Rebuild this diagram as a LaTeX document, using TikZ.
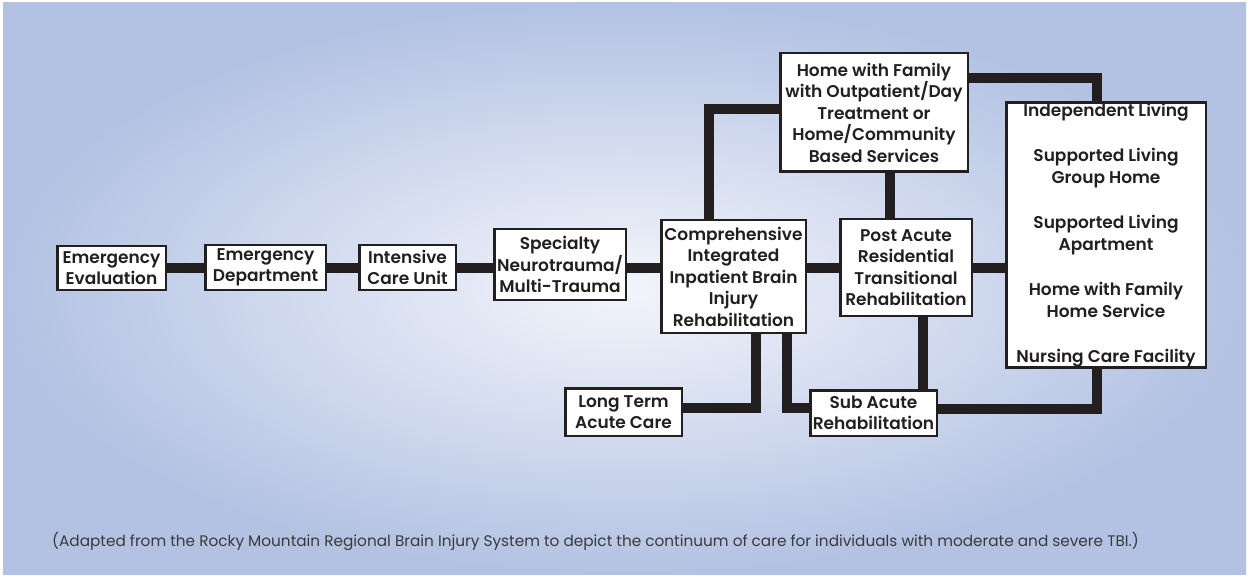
\documentclass[tikz,border=0pt]{standalone}
\usepackage{fontspec}
\setmainfont{Poppins}[BoldFont={Poppins SemiBold}]
\usetikzlibrary{backgrounds}
\definecolor{ink}{HTML}{231F20}
\definecolor{txt}{HTML}{231F20}
\definecolor{notec}{HTML}{3A3A3A}
\definecolor{bgout}{HTML}{B3C2E3}
\definecolor{bgin}{HTML}{F3F5FB}
\begin{document}
\begin{tikzpicture}[x=1pt,y=-1pt,
  box/.style={draw=ink, line width=2.5pt, fill=white, align=center, inner sep=0pt,
    font=\fontsize{17}{21.5}\selectfont\bfseries, text=txt},
  link/.style={draw=ink, line width=10pt, line join=miter, line cap=butt}]
\useasboundingbox (0,0) rectangle (1249,577);
\coordinate (row) at (0,268);
% boxes
\node[box, minimum width=108.5pt, minimum height=43.5pt] (ee) at (111.5,268) {Emergency\\Evaluation};
\node[box, minimum width=120.5pt, minimum height=44.5pt] (ed) at (265.5,267.5) {Emergency\\Department};
\node[box, minimum width=96.5pt, minimum height=44.5pt] (icu) at (407.5,267.5) {Intensive\\Care Unit};
\node[box, minimum width=131.5pt, minimum height=70.5pt] (spec) at (560,264.5) {Specialty\\Neurotrauma/\\Multi-Trauma};
\node[box, minimum width=144.5pt, minimum height=112.5pt] (comp) at (733.5,276.5) {Comprehensive\\Integrated\\Inpatient Brain\\Injury\\Rehabilitation};
\node[box, minimum width=131.5pt, minimum height=96.5pt] (post) at (906,267.5) {Post Acute\\Residential\\Transitional\\Rehabilitation};
\node[box, minimum width=187.5pt, minimum height=118.5pt] (home) at (874,112.5) {Home with Family\\with Outpatient/Day\\Treatment or\\Home/Community\\Based Services};
\node[box, minimum width=199.5pt, minimum height=264.5pt] (right) at (1106,235) {Independent Living\\[24pt]Supported Living\\Group Home\\[24pt]Supported Living\\Apartment\\[24pt]Home with Family\\Home Service\\[24pt]Nursing Care Facility};
\node[box, minimum width=116.5pt, minimum height=47.5pt] (lt) at (623.5,412) {Long Term\\Acute Care};
\node[box, minimum width=126.5pt, minimum height=45.5pt] (sub) at (873.5,413) {Sub Acute\\Rehabilitation};
\node[anchor=west, inner sep=0pt, font=\fontsize{15.3}{17}\selectfont, text=notec] (note) at (52,541)
  {(Adapted from the Rocky Mountain Regional Brain Injury System to depict the continuum of care for individuals with moderate and severe TBI.)};
% connector corners
\coordinate (c1) at (709,109);
\coordinate (c2) at (890,0);
\coordinate (c3) at (1097,78);
\coordinate (c4) at (756,408);
\coordinate (c5) at (787,408);
\coordinate (c6) at (923,0);
\coordinate (c7) at (1097,409);
\begin{scope}[on background layer]
\fill[white] (0,0) rectangle (1249,577);
\shade[inner color=bgin, outer color=bgout] (3,3) rectangle (1246,574);
\draw[link] (ee.east |- row) -- (ed.west |- row);
\draw[link] (ed.east |- row) -- (icu.west |- row);
\draw[link] (icu.east |- row) -- (spec.west |- row);
\draw[link] (spec.east |- row) -- (comp.west |- row);
\draw[link] (comp.east |- row) -- (post.west |- row);
\draw[link] (post.east |- row) -- (right.west |- row);
\draw[link] (c1 |- comp.north) -- (c1) -- (c1 -| home.west);
\draw[link] (c2 |- home.south) -- (c2 |- post.north);
\draw[link] (c3 -| home.east) -- (c3) -- (c3 |- right.north);
\draw[link] (c4 |- comp.south) -- (c4) -- (c4 -| lt.east);
\draw[link] (c5 |- comp.south) -- (c5) -- (c5 -| sub.west);
\draw[link] (c6 |- post.south) -- (c6 |- sub.north);
\draw[link] (c7 -| sub.east) -- (c7) -- (c7 |- right.south);
\end{scope}
\end{tikzpicture}
\end{document}
